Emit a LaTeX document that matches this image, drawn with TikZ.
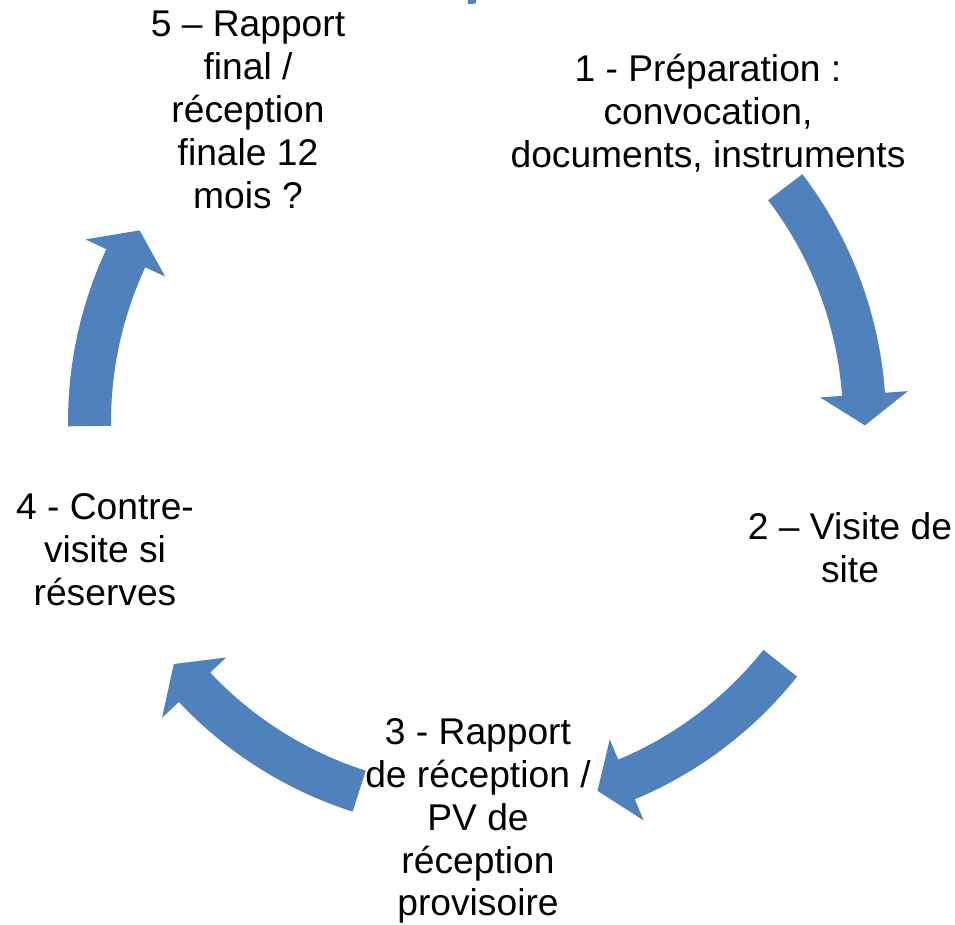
\documentclass[tikz,border=0pt]{standalone}
\usepackage{fontspec}
\setmainfont{Liberation Sans}
\definecolor{cycleblue}{HTML}{4F81BD}
\begin{document}
\begin{tikzpicture}[scale=0.026458,
    steplabel/.style={align=center, inner sep=0pt, font=\fontsize{28}{32.3}\selectfont},
    arrowband/.style={fill=cycleblue, draw=none}]
    \useasboundingbox (-477,-502) rectangle (478,422);
    % the five steps
    \node [steplabel] (prep) at (231,309) {1 - Préparation :\\convocation,\\documents, instruments};
    \node [steplabel] (visite) at (373,-126) {2 – Visite de\\site};
    \node [steplabel] (rapport) at (1,-399) {3 - Rapport\\de réception /\\PV de\\réception\\provisoire};
    \node [steplabel] (contre) at (-372,-128) {4 - Contre-\\visite si\\réserves};
    \node [steplabel] (final) at (-229,312) {5 – Rapport\\final /\\réception\\finale 12\\mois ?};
    % curved arrows (clockwise)
    \fill [arrowband] (37.3:366) arc [start angle=37.3, end angle=4.1, radius=366] -- (4.1:344) -- (-0.5:388) -- (4.1:432) -- (4.1:409) arc [start angle=4.1, end angle=37.3, radius=409] -- cycle;
    \fill [arrowband] (-38.5:366) arc [start angle=-38.5, end angle=-67.3, radius=366] -- (-67.3:344) -- (-71.9:388) -- (-67.3:432) -- (-67.3:409) arc [start angle=-67.3, end angle=-38.5, radius=409] -- cycle;
    \fill [arrowband] (-107.7:366) arc [start angle=-107.7, end angle=-136.8, radius=366] -- (-136.8:344) -- (-141.4:388) -- (-136.8:432) -- (-136.8:409) arc [start angle=-136.8, end angle=-107.7, radius=409] -- cycle;
    \fill [arrowband] (180.6:366) arc [start angle=180.6, end angle=155.0, radius=366] -- (155.0:344) -- (150.4:388) -- (155.0:432) -- (155.0:409) arc [start angle=155.0, end angle=180.6, radius=409] -- cycle;
    % fragment of the hidden fifth arrow at the top edge
    \fill [arrowband] (-9,422) -- (-1,422) -- (-1,419) -- (-4,418) -- (-9,418) -- cycle;
\end{tikzpicture}
\end{document}
